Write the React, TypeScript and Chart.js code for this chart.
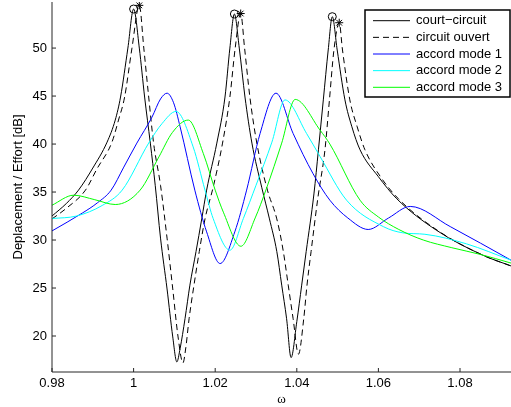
import React, { useEffect, useRef } from 'react';
import { Chart, registerables } from 'chart.js';

Chart.register(...registerables);

// ---------- data ----------
const shortOmega = [0.980, 0.9835, 0.9865, 0.990, 0.9935, 0.9955, 0.9968, 0.9986, 1.0000, 1.0014, 1.0027, 1.0041, 1.0053, 1.0066, 1.0082, 1.0096, 1.0106, 1.0114, 1.0126, 1.0138, 1.0153, 1.0167, 1.0179, 1.0204, 1.0224, 1.0236, 1.0247, 1.0259, 1.0273, 1.0290, 1.0314, 1.0333, 1.0351, 1.0363, 1.0375, 1.0386, 1.0400, 1.0412, 1.0423, 1.0442, 1.0453, 1.0465, 1.0477, 1.0487, 1.0499, 1.0518, 1.0535, 1.0555, 1.0600, 1.0645, 1.0743, 1.0857, 1.0925];
const shortDb = [32.5, 33.8, 35.2, 37.5, 40.2, 42.5, 44.9, 50.0, 54.07, 50.0, 44.9, 40.1, 35.7, 30.2, 24.9, 19.9, 17.3, 18.7, 21.8, 25.3, 28.8, 32.2, 35.2, 40.1, 44.9, 50.0, 53.55, 50.0, 44.9, 40.1, 35.5, 32.2, 28.8, 25.3, 21.8, 17.75, 21.5, 25.3, 28.8, 34.8, 39.4, 44.6, 49.8, 53.27, 49.8, 44.6, 41.8, 39.4, 36.6, 34.3, 31.0, 28.4, 27.3];

const openOmega = [0.980, 0.9835, 0.9882, 0.9910, 0.9947, 0.9963, 0.9978, 0.9996, 1.0014, 1.0025, 1.0037, 1.0049, 1.0066, 1.0082, 1.0096, 1.0109, 1.0121, 1.0128, 1.0136, 1.0148, 1.0161, 1.0175, 1.0195, 1.0218, 1.0236, 1.0249, 1.02625, 1.0272, 1.0285, 1.0302, 1.0328, 1.0351, 1.0367, 1.0379, 1.0391, 1.0404, 1.0417, 1.0425, 1.0435, 1.0452, 1.0469, 1.0480, 1.0491, 1.0504, 1.0512, 1.0530, 1.0548, 1.0567, 1.0605, 1.0649, 1.0745, 1.0857, 1.0925];
const openDb = [32.2, 33.3, 35.2, 37.4, 40.2, 42.5, 44.9, 50.0, 54.45, 50.0, 44.9, 40.1, 35.7, 30.2, 24.9, 19.9, 17.2, 18.8, 21.8, 25.3, 28.8, 32.2, 35.5, 40.1, 44.9, 50.0, 53.6, 50.0, 44.9, 40.1, 35.2, 32.2, 28.8, 25.3, 21.8, 18.1, 21.8, 25.3, 28.8, 34.5, 39.4, 44.6, 49.8, 52.64, 49.8, 44.6, 41.8, 39.4, 36.6, 34.3, 31.0, 28.4, 27.3];

const mode1Omega = [0.980, 0.9874, 0.9912, 0.9945, 0.9976, 1.0008, 1.0045, 1.0066, 1.0082, 1.0098, 1.0114, 1.0150, 1.0179, 1.0212, 1.0248, 1.0277, 1.0310, 1.0349, 1.0391, 1.0440, 1.0481, 1.0525, 1.0575, 1.0625, 1.0678, 1.0776, 1.0925];
const mode1Db = [30.95, 32.8, 33.9, 35.2, 37.6, 40.1, 42.8, 44.7, 45.3, 44.3, 41.8, 35.2, 30.85, 27.55, 30.85, 35.2, 41.1, 45.3, 41.1, 36.9, 34.15, 32.3, 31.1, 32.3, 33.5, 31.4, 27.9];

const mode2Omega = [0.980, 0.9860, 0.9923, 0.9972, 1.0037, 1.0070, 1.0104, 1.0146, 1.0175, 1.0195, 1.0236, 1.0269, 1.0300, 1.0339, 1.0371, 1.0424, 1.0457, 1.0522, 1.0612, 1.0660, 1.0714, 1.0816, 1.0925];
const mode2Db = [32.24, 32.5, 33.6, 35.2, 40.1, 42.15, 43.4, 39.7, 35.2, 32.24, 28.94, 32.24, 35.7, 40.2, 44.6, 41.1, 38.7, 34.15, 31.4, 30.75, 30.6, 29.6, 27.9];

const mode3Omega = [0.980, 0.9853, 0.9905, 0.9955, 1.0016, 1.0062, 1.0095, 1.0134, 1.0171, 1.0200, 1.0220, 1.0263, 1.0298, 1.0325, 1.0363, 1.0396, 1.0457, 1.0481, 1.0555, 1.0600, 1.0650, 1.0710, 1.0780, 1.0850, 1.0925];
const mode3Db = [33.63, 34.67, 34.2, 33.7, 35.2, 38.66, 41.2, 42.5, 39.0, 35.2, 32.9, 29.35, 32.3, 35.3, 40.1, 44.65, 41.45, 40.0, 34.15, 32.4, 31.1, 30.0, 29.2, 28.5, 27.6];

const shortPeakOmega = [1.0000, 1.0247, 1.0487];
const shortPeakDb = [54.07, 53.55, 53.27];
const openPeakOmega = [1.0014, 1.02625, 1.0504];
const openPeakDb = [54.45, 53.6, 52.64];

const xTicks = [0.98, 1, 1.02, 1.04, 1.06, 1.08];
const xTickLabels = ['0.98', '1', '1.02', '1.04', '1.06', '1.08'];
const yTicks = [20, 25, 30, 35, 40, 45, 50];
const yTickLabels = ['20', '25', '30', '35', '40', '45', '50'];
const legendLabels = ['court\u2212circuit', 'circuit ouvert', 'accord mode 1', 'accord mode 2', 'accord mode 3'];
const xTitle = '\u03c9';
const yTitle = 'Deplacement / Effort [dB]';

// ---------- helpers ----------
const FONT = "'Liberation Sans', Arial, Helvetica, sans-serif";
const pts = (xs: number[], ys: number[]) => xs.map((x, i) => ({ x, y: ys[i] }));

const curveStyles = [
  { color: '#000000', dash: [] as number[] },
  { color: '#000000', dash: [6, 4] },
  { color: '#0000ff', dash: [] as number[] },
  { color: '#00ffff', dash: [] as number[] },
  { color: '#00ff00', dash: [] as number[] },
];

const matlabPlugin = {
  id: 'matlabAxes',
  afterDraw(chart: any) {
    const { ctx, chartArea: a, scales } = chart;
    ctx.save();
    ctx.strokeStyle = '#262626';
    ctx.lineWidth = 1;
    ctx.setLineDash([]);
    ctx.beginPath();
    ctx.moveTo(a.left, a.top);
    ctx.lineTo(a.left, a.bottom);
    ctx.lineTo(a.right, a.bottom);
    ctx.stroke();
    ctx.beginPath();
    for (const v of xTicks) {
      const px = scales.x.getPixelForValue(v);
      ctx.moveTo(px, a.bottom);
      ctx.lineTo(px, a.bottom - 4);
    }
    for (const v of yTicks) {
      const py = scales.y.getPixelForValue(v);
      ctx.moveTo(a.left, py);
      ctx.lineTo(a.left + 4, py);
    }
    ctx.stroke();

    const bw = 145;
    const bh = 87;
    const bx = a.right - bw - 1;
    const by = a.top + 8;
    ctx.fillStyle = '#ffffff';
    ctx.fillRect(bx, by, bw, bh);
    ctx.strokeStyle = '#000000';
    ctx.lineWidth = 1.5;
    ctx.strokeRect(bx, by, bw, bh);
    ctx.font = `13px ${FONT}`;
    ctx.textBaseline = 'middle';
    ctx.textAlign = 'left';
    legendLabels.forEach((lab, i) => {
      const cy = by + 10.7 + i * 16.65;
      const st = curveStyles[i];
      ctx.strokeStyle = st.color;
      ctx.lineWidth = 1;
      ctx.setLineDash(st.dash);
      ctx.beginPath();
      ctx.moveTo(bx + 8, cy);
      ctx.lineTo(bx + 45, cy);
      ctx.stroke();
      ctx.setLineDash([]);
      ctx.fillStyle = '#000000';
      ctx.fillText(lab, bx + 51, cy);
    });
    ctx.restore();
  },
};

export default function App() {
  const ref = useRef<HTMLCanvasElement | null>(null);

  useEffect(() => {
    if (!ref.current) return;
    const series = [
      pts(shortOmega, shortDb),
      pts(openOmega, openDb),
      pts(mode1Omega, mode1Db),
      pts(mode2Omega, mode2Db),
      pts(mode3Omega, mode3Db),
    ];
    const orders = [5, 4, 3, 2, 1];
    const curveSets = series.map((data, i) => ({
      type: 'line' as const,
      label: legendLabels[i],
      data,
      borderColor: curveStyles[i].color,
      backgroundColor: curveStyles[i].color,
      borderWidth: 1,
      borderDash: curveStyles[i].dash,
      pointRadius: 0,
      fill: false,
      cubicInterpolationMode: 'monotone' as const,
      order: orders[i],
    }));
    const markerSets = [
      {
        type: 'line' as const,
        label: 'sc peaks',
        data: pts(shortPeakOmega, shortPeakDb),
        showLine: false,
        pointStyle: 'circle',
        pointRadius: 4,
        pointBorderWidth: 1,
        pointBorderColor: '#000000',
        pointBackgroundColor: 'rgba(0,0,0,0)',
        borderColor: '#000000',
        order: 0,
      },
      {
        type: 'line' as const,
        label: 'oc peaks',
        data: pts(openPeakOmega, openPeakDb),
        showLine: false,
        pointStyle: 'star',
        pointRadius: 4,
        pointBorderWidth: 1,
        pointBorderColor: '#000000',
        pointBackgroundColor: 'rgba(0,0,0,0)',
        borderColor: '#000000',
        order: 0,
      },
    ];

    const zeroPad = (s: any) => {
      s.paddingTop = 0;
      s.paddingBottom = 0;
      s.paddingLeft = 0;
      s.paddingRight = 0;
    };

    const chart = new Chart(ref.current, {
      type: 'line',
      data: { datasets: [...curveSets, ...markerSets] as any },
      options: {
        responsive: false,
        animation: false,
        events: [],
        layout: { autoPadding: false, padding: { top: 2, right: 0, left: 0, bottom: 0 } },
        plugins: {
          legend: { display: false },
          tooltip: { enabled: false },
        },
        scales: {
          x: {
            type: 'linear',
            min: 0.98,
            max: 1.0925,
            afterBuildTicks: (s: any) => {
              s.ticks = xTicks.map((v) => ({ value: v }));
            },
            afterFit: (s: any) => {
              s.height = 35;
              zeroPad(s);
            },
            grid: { display: false, drawTicks: false },
            border: { display: false },
            ticks: {
              autoSkip: false,
              maxRotation: 0,
              padding: 4,
              color: '#000000',
              font: { family: FONT, size: 13 },
              callback: (v: any) => xTickLabels[xTicks.indexOf(Number(v))] ?? '',
            },
            title: {
              display: true,
              text: xTitle,
              color: '#000000',
              font: { family: "'Liberation Serif', 'DejaVu Serif', serif", size: 13 },
              padding: { top: 0, bottom: 0 },
            },
          },
          y: {
            type: 'linear',
            min: 16.25,
            max: 54.8,
            afterBuildTicks: (s: any) => {
              s.ticks = yTicks.map((v) => ({ value: v }));
            },
            afterFit: (s: any) => {
              s.width = 52;
              zeroPad(s);
            },
            grid: { display: false, drawTicks: false },
            border: { display: false },
            ticks: {
              autoSkip: false,
              padding: 5,
              color: '#000000',
              font: { family: FONT, size: 13 },
              callback: (v: any) => yTickLabels[yTicks.indexOf(Number(v))] ?? '',
            },
            title: {
              display: true,
              text: yTitle,
              color: '#000000',
              font: { family: FONT, size: 13 },
              padding: { top: 11, bottom: 0 },
            },
          },
        },
      },
      plugins: [matlabPlugin],
    });
    return () => chart.destroy();
  }, []);

  return (
    <div style={{ position: 'fixed', left: 0, top: 0, width: 511, height: 407, background: '#ffffff' }}>
      <canvas ref={ref} width={511} height={407} style={{ display: 'block' }} />
    </div>
  );
}
